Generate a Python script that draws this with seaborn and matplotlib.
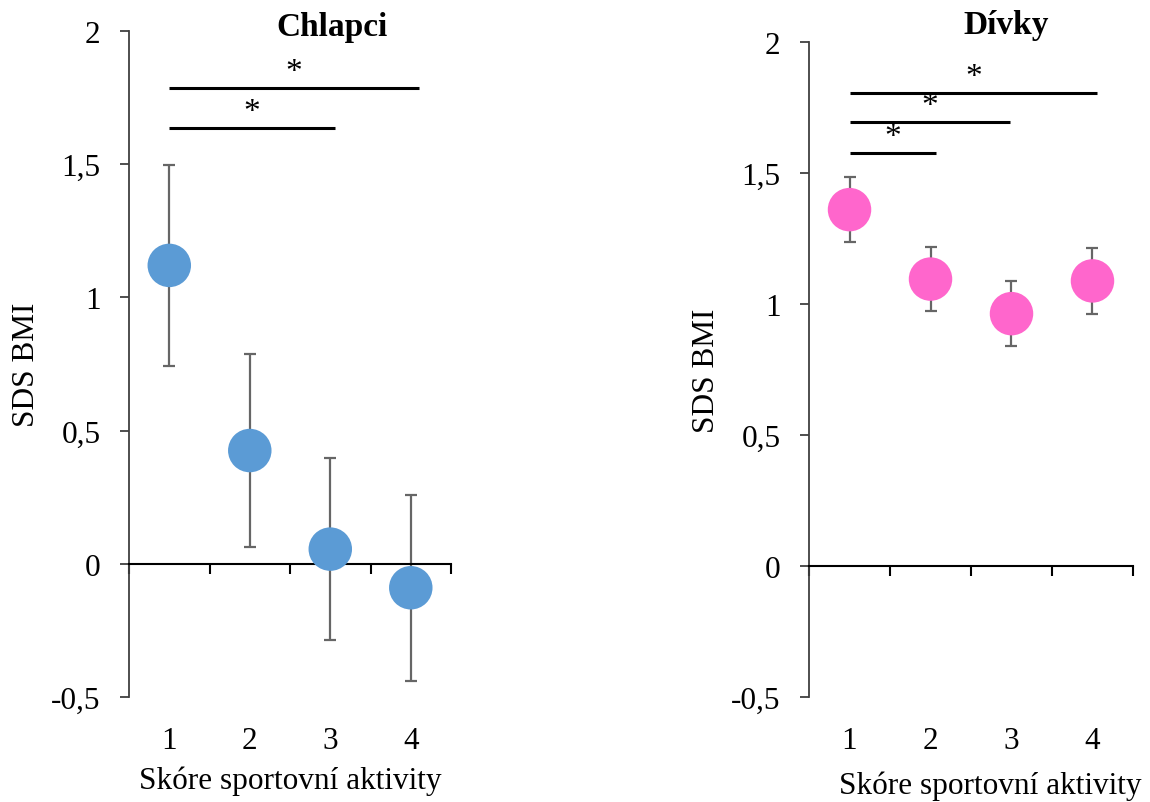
import matplotlib
matplotlib.use('Agg')
import matplotlib.pyplot as plt
import matplotlib.transforms as mtransforms
import seaborn as sns
import pandas as pd

# Data
categories = ['1', '2', '3', '4']
boys_mean = [1.12, 0.425, 0.055, -0.09]
boys_err = [0.377, 0.363, 0.343, 0.35]
girls_mean = [1.36, 1.095, 0.963, 1.088]
girls_err = [0.124, 0.122, 0.123, 0.126]
yticks = [-0.5, 0, 0.5, 1, 1.5, 2]
ytick_labels = ['-0,5', '0', '0,5', '1', '1,5', '2']

# significance brackets: (from category, to category, height)
boys_sig = [(0, 2, 1.635), (0, 3, 1.785)]
girls_sig = [(0, 1, 1.576), (0, 2, 1.695), (0, 3, 1.805)]

sns.set_style('white')
plt.rcParams['font.family'] = ['Liberation Serif', 'DejaVu Serif']
plt.rcParams['text.color'] = 'black'
plt.rcParams['axes.labelcolor'] = 'black'
plt.rcParams['xtick.color'] = 'black'
plt.rcParams['ytick.color'] = 'black'

fig = plt.figure(figsize=(11.5, 8.03), dpi=100)
ax1 = fig.add_axes([0.1122, 0.1308, 0.28, 0.8294])
ax2 = fig.add_axes([0.7035, 0.1308, 0.2817, 0.8157])

FS = 22.5


def draw_panel(ax, means, errs, color, title, sig, title_xy, xlabel_xy, sig_ends):
    df = pd.DataFrame({'x': range(len(categories)), 'y': means})
    ax.errorbar(df['x'], df['y'], yerr=errs, fmt='none', ecolor='#666666',
                elinewidth=1.6, capsize=4.5, capthick=1.6, zorder=2)
    sns.scatterplot(data=df, x='x', y='y', ax=ax, s=980, color=color,
                    edgecolor='none', zorder=3, legend=False)
    ax.set_xlim(-0.5, len(categories) - 0.5)
    ax.set_ylim(-0.5, 2)

    # spines: y axis on left, x axis crossing at zero
    for s in ['top', 'right']:
        ax.spines[s].set_visible(False)
    ax.spines['left'].set_color('#404040')
    ax.spines['left'].set_linewidth(1.3)
    ax.spines['bottom'].set_position(('data', 0))
    ax.spines['bottom'].set_color('black')
    ax.spines['bottom'].set_linewidth(1.5)

    ax.set_yticks(yticks)
    ax.set_yticklabels(ytick_labels, fontsize=FS)
    ax.set_xticks([i - 0.5 for i in range(len(categories) + 1)])
    ax.set_xticklabels([])
    ax.tick_params(axis='y', direction='out', length=6.5, width=1.3,
                   color='#404040', left=True, pad=14)
    ax.tick_params(axis='x', direction='out', length=7, width=1.5,
                   color='black', bottom=True)

    # category labels below the plot area
    trans = mtransforms.blended_transform_factory(ax.transData, ax.transAxes)
    for i, c in enumerate(categories):
        ax.text(i, -0.066, c, transform=trans, ha='center', va='center',
                fontsize=FS)

    ax.set_ylabel('SDS BMI', fontsize=FS)
    ax.yaxis.set_label_coords(-0.272, 0.5)
    ax.set_xlabel('Skóre sportovní aktivity', fontsize=FS)
    ax.xaxis.set_label_coords(xlabel_xy[0], xlabel_xy[1])
    ax.text(title_xy[0], title_xy[1], title, transform=ax.transAxes,
            ha='center', va='center', fontsize=24, fontweight='bold')

    for (a, b, h), end in zip(sig, sig_ends):
        ax.plot([a, b + end], [h, h], color='black', lw=2.2, zorder=4,
                solid_capstyle='butt')
        ax.text((a + b + end) / 2, h + 0.005, '*', ha='center', va='bottom',
                fontsize=24)


draw_panel(ax1, boys_mean, boys_err, '#5B9BD5', 'Chlapci', boys_sig,
           (0.63, 1.006), (0.5, -0.103), [0.06, 0.1])
draw_panel(ax2, girls_mean, girls_err, '#FF66CC', 'Dívky', girls_sig,
           (0.61, 1.026), (0.559, -0.112), [0.07, -0.02, 0.06])

fig.savefig('out.png', dpi=100)
